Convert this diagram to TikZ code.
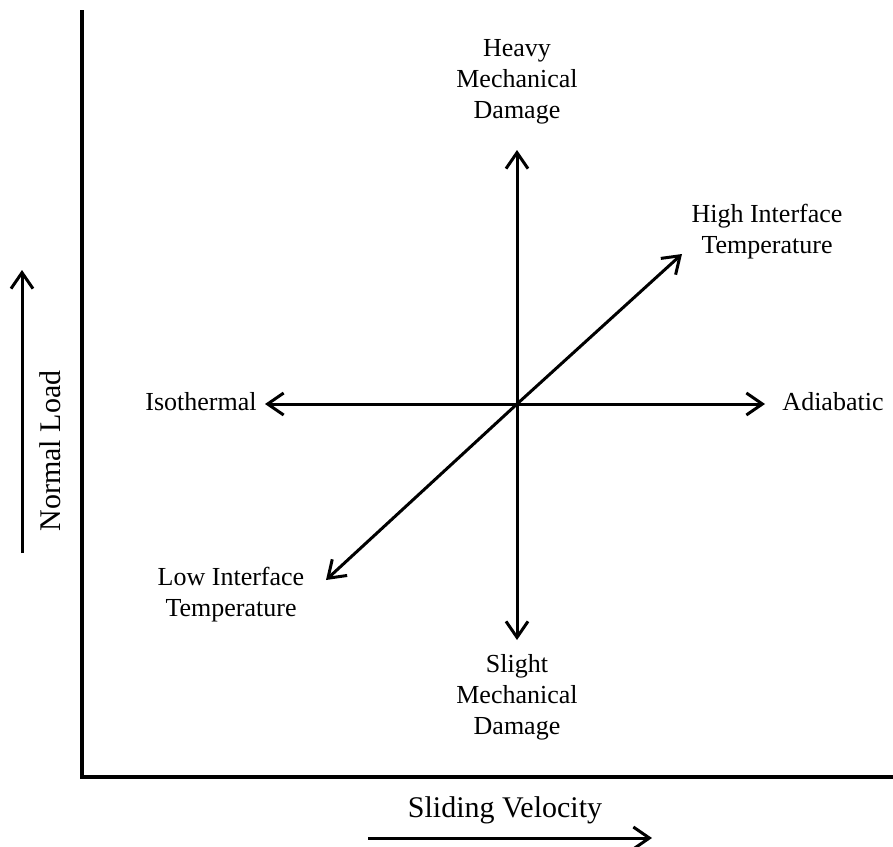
\documentclass[tikz,border=0pt]{standalone}
\usepackage{fontspec}
\setmainfont{Liberation Serif}
\usetikzlibrary{arrows.meta}
\tikzset{
  axisline/.style={line width=3.4pt, line join=miter},
  arr/.style={line width=3pt, -{Straight Barb[length=16pt,width=22pt,line width=3pt]}},
  darr/.style={line width=3pt, {Straight Barb[length=16pt,width=22pt,line width=3pt]}-{Straight Barb[length=16pt,width=22pt,line width=3pt]}},
  lbl/.style={inner sep=0pt, align=center, font=\fontsize{26}{31}\selectfont},
  biglbl/.style={inner sep=0pt, font=\fontsize{30}{36}\selectfont}
}
\begin{document}
\begin{tikzpicture}[x=1pt,y=-1pt]
\useasboundingbox (0,0) rectangle (893,846);
% axes
\coordinate (ytop) at (82,10);
\coordinate (corner) at (82,777);
\coordinate (xend) at (893,777);
\draw[axisline] (ytop) -- (corner) -- (xend);
% centre and arrow ends
\coordinate (c) at (517,404);
\coordinate (up) at (517,150);
\coordinate (down) at (517,640);
\coordinate (left) at (265,404);
\coordinate (right) at (765,404);
\coordinate (ur) at (682,254);
\coordinate (ll) at (326,580);
\draw[darr] (up) -- (down);
\draw[darr] (left) -- (right);
\draw[arr] (c) -- (ur);
\draw[arr] (c) -- (ll);
% labels
\node[lbl] (heavy) at (517,82) {Heavy\\Mechanical\\Damage};
\node[lbl] (slight) at (517,697) {Slight\\Mechanical\\Damage};
\node[lbl] (iso) at (201,402) {Isothermal};
\node[lbl] (adia) at (833,402) {Adiabatic};
\node[lbl] (high) at (767,232) {High Interface\\Temperature};
\node[lbl] (low) at (231,595) {Low Interface\\Temperature};
% axis labels
\node[biglbl] (sv) at (505,810) {Sliding Velocity};
\node[biglbl, rotate=90] (nl) at (50,451) {Normal Load};
\coordinate (sva) at (368,838);
\coordinate (svb) at (652,838);
\draw[arr] (sva) -- (svb);
\coordinate (nla) at (22,553);
\coordinate (nlb) at (22,270);
\draw[arr] (nla) -- (nlb);
\end{tikzpicture}
\end{document}
